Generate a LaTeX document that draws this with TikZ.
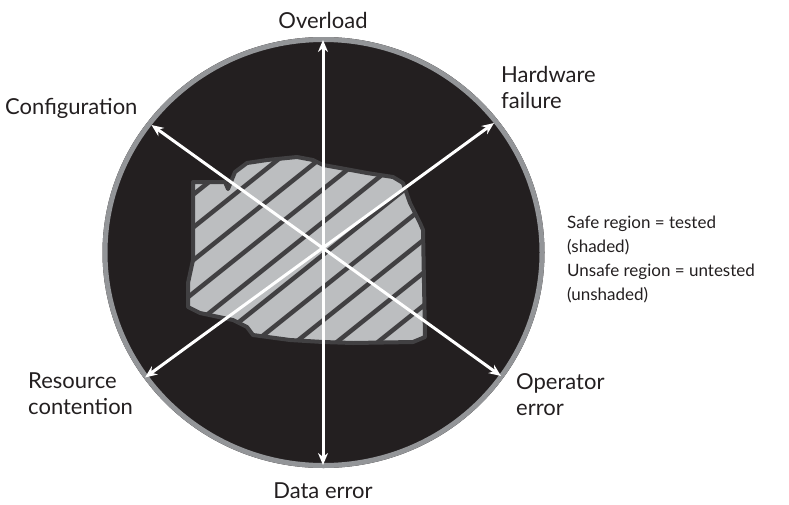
\documentclass[tikz,border=0pt]{standalone}
\usepackage{fontspec}
\setmainfont{Lato}
\usetikzlibrary{arrows.meta}
\definecolor{discblack}{HTML}{231F20}
\definecolor{rimgray}{HTML}{939598}
\definecolor{safefill}{HTML}{BCBEC0}
\definecolor{hatchgray}{HTML}{414042}
\definecolor{textgray}{HTML}{231F20}
\tikzset{
  axisarrow/.style={white, line width=3pt, {Stealth[length=12pt,width=10pt]}-{Stealth[length=12pt,width=10pt]}},
  biglabel/.style={font=\fontsize{22}{26}\selectfont, text=textgray, inner sep=0pt, align=left},
  legendtext/.style={font=\fontsize{17}{24}\selectfont, text=textgray, inner sep=0pt, align=left},
}
\newcommand{\saferegion}{(193,182) -- (225,182) -- (228,189) -- (235,172) -- (247,163) -- (267,160) -- (297,157) -- (313,160) -- (323,165) -- (340,168) -- (367,173) -- (393,177) -- (403,183) -- (410,203) -- (420,223) -- (423,230) -- (425,337) -- (413,342) -- (353,343) -- (323,342) -- (290,340) -- (253,335) -- (247,327) -- (233,320) -- (200,313) -- (188,307) -- (188,283) -- (193,260) -- (193,217) -- cycle}
\begin{document}
\begin{tikzpicture}[x=1pt,y=-1pt]
  \useasboundingbox (0,0) rectangle (789,504);
  % disc with grey rim
  \fill[discblack] (323.5,252.5) ellipse [x radius=221, y radius=215.5];
  \draw[rimgray, line width=5pt] (323.5,252.5) ellipse [x radius=218.5, y radius=213];
  % tested (safe) region with hatching
  \fill[safefill] \saferegion;
  \begin{scope}
    \clip \saferegion;
    \foreach \k in {-6,...,7} {
      \draw[hatchgray, line width=4.5pt] ({288+41*\k-200},{250+160}) -- ({288+41*\k+200},{250-160});
    }
  \end{scope}
  \draw[hatchgray, line width=4pt, line join=round] \saferegion;
  % arrow end points
  \coordinate (top) at (323,40);
  \coordinate (bottom) at (323,465);
  \coordinate (ul) at (151.5,125);
  \coordinate (lr) at (501,376);
  \coordinate (ur) at (494,123);
  \coordinate (ll) at (145,377.5);
  \draw[axisarrow] (bottom) -- (top);
  \draw[axisarrow] (ul) -- (lr);
  \draw[axisarrow] (ll) -- (ur);
  % labels
  \node[biglabel, anchor=center] (overload) at (323,20) {Overload};
  \node[biglabel, anchor=center] (dataerr) at (323,491) {Data error};
  \node[biglabel, anchor=west] (config) at (5,108) {Configuration};
  \node[biglabel, anchor=north west] (hw) at (501,66) {Hardware\\failure};
  \node[biglabel, anchor=north west] (res) at (28,373) {Resource\\contention};
  \node[biglabel, anchor=north west] (op) at (516,373) {Operator\\error};
  \node[legendtext, anchor=north west] (legend) at (567,216) {Safe region = tested\\(shaded)\\Unsafe region = untested\\(unshaded)};
\end{tikzpicture}
\end{document}
